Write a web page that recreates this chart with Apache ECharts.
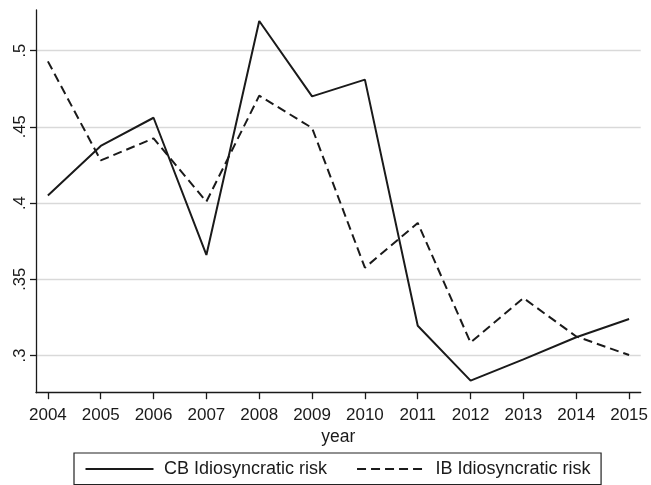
<!DOCTYPE html>
<html>
<head>
<meta charset="utf-8">
<script src="https://cdn.jsdelivr.net/npm/echarts@6/dist/echarts.min.js"></script>
<style>
  html, body { margin: 0; padding: 0; background: #fff; }
  #chart { width: 651px; height: 485px; }
</style>
</head>
<body>
<div id="chart"></div>
<script>
// Idiosyncratic risk by year, conventional (CB) vs Islamic (IB) banks
const years = [2004, 2005, 2006, 2007, 2008, 2009, 2010, 2011, 2012, 2013, 2014, 2015];
const cbRisk = [0.405, 0.4375, 0.456, 0.366, 0.5195, 0.47, 0.481, 0.3195, 0.2835, 0.2975, 0.312, 0.324];
const ibRisk = [0.493, 0.428, 0.4425, 0.401, 0.4705, 0.4493, 0.3576, 0.387, 0.3085, 0.3377, 0.3125, 0.3003];
const yTicks = [0.3, 0.35, 0.4, 0.45, 0.5];
const seriesNames = ['CB Idiosyncratic risk', 'IB Idiosyncratic risk'];
const xTitle = 'year';

const FONT = '"Liberation Sans", Arial, Helvetica, sans-serif';
const INK = '#1a1a1a';

const chart = echarts.init(document.getElementById('chart'), null, { renderer: 'canvas' });

const pairs = vals => years.map((y, i) => [y, vals[i]]);

chart.setOption({
  animation: false,
  backgroundColor: '#fff',
  textStyle: { fontFamily: FONT, color: INK },
  grid: { left: 36, right: 9.3, top: 10, bottom: 92.3, containLabel: false },
  xAxis: {
    type: 'value',
    min: 2003.775,
    max: 2015.22,
    name: xTitle,
    nameLocation: 'middle',
    nameGap: 32,
    nameTextStyle: { fontFamily: FONT, fontSize: 17.5, color: INK },
    axisLine: { show: true, onZero: false, lineStyle: { color: INK, width: 1.3 } },
    axisTick: { show: true, length: 6.5, customValues: years, lineStyle: { color: INK, width: 1.3 } },
    axisLabel: {
      customValues: years, margin: 14, fontFamily: FONT, fontSize: 17, color: INK,
      formatter: v => String(v)
    },
    splitLine: { show: false }
  },
  yAxis: {
    type: 'value',
    min: 0.2756,
    max: 0.5267,
    axisLine: { show: true, onZero: false, lineStyle: { color: INK, width: 1.3 } },
    axisTick: { show: true, length: 6, customValues: yTicks, lineStyle: { color: INK, width: 1.3 } },
    axisLabel: {
      customValues: yTicks, rotate: 90, margin: 7, fontFamily: FONT, fontSize: 16.5, color: INK,
      formatter: v => String(v).replace(/^0/, '')
    },
    splitLine: { show: true, lineStyle: { color: '#d9d9d9', width: 1.3 } }
  },
  legend: {
    left: 74,
    top: 453,
    orient: 'horizontal',
    padding: [7, 10.5, 6.5, 10.5],
    itemGap: 29,
    itemWidth: 68,
    itemHeight: 17,
    borderColor: '#222',
    borderWidth: 1.2,
    borderRadius: 0,
    // line-only keys: hide the marker drawn in the middle of each key
    itemStyle: { opacity: 0 },
    textStyle: { fontFamily: FONT, fontSize: 18, color: INK, padding: [0, 0, 0, 5.5] },
    data: seriesNames
  },
  series: [
    {
      name: seriesNames[0],
      type: 'line',
      data: pairs(cbRisk),
      symbol: 'none',
      lineStyle: { color: INK, width: 2 },
      itemStyle: { color: INK }
    },
    {
      name: seriesNames[1],
      type: 'line',
      data: pairs(ibRisk),
      symbol: 'none',
      lineStyle: { color: INK, width: 2, type: [9, 5] },
      itemStyle: { color: INK }
    }
  ]
});
</script>
</body>
</html>
